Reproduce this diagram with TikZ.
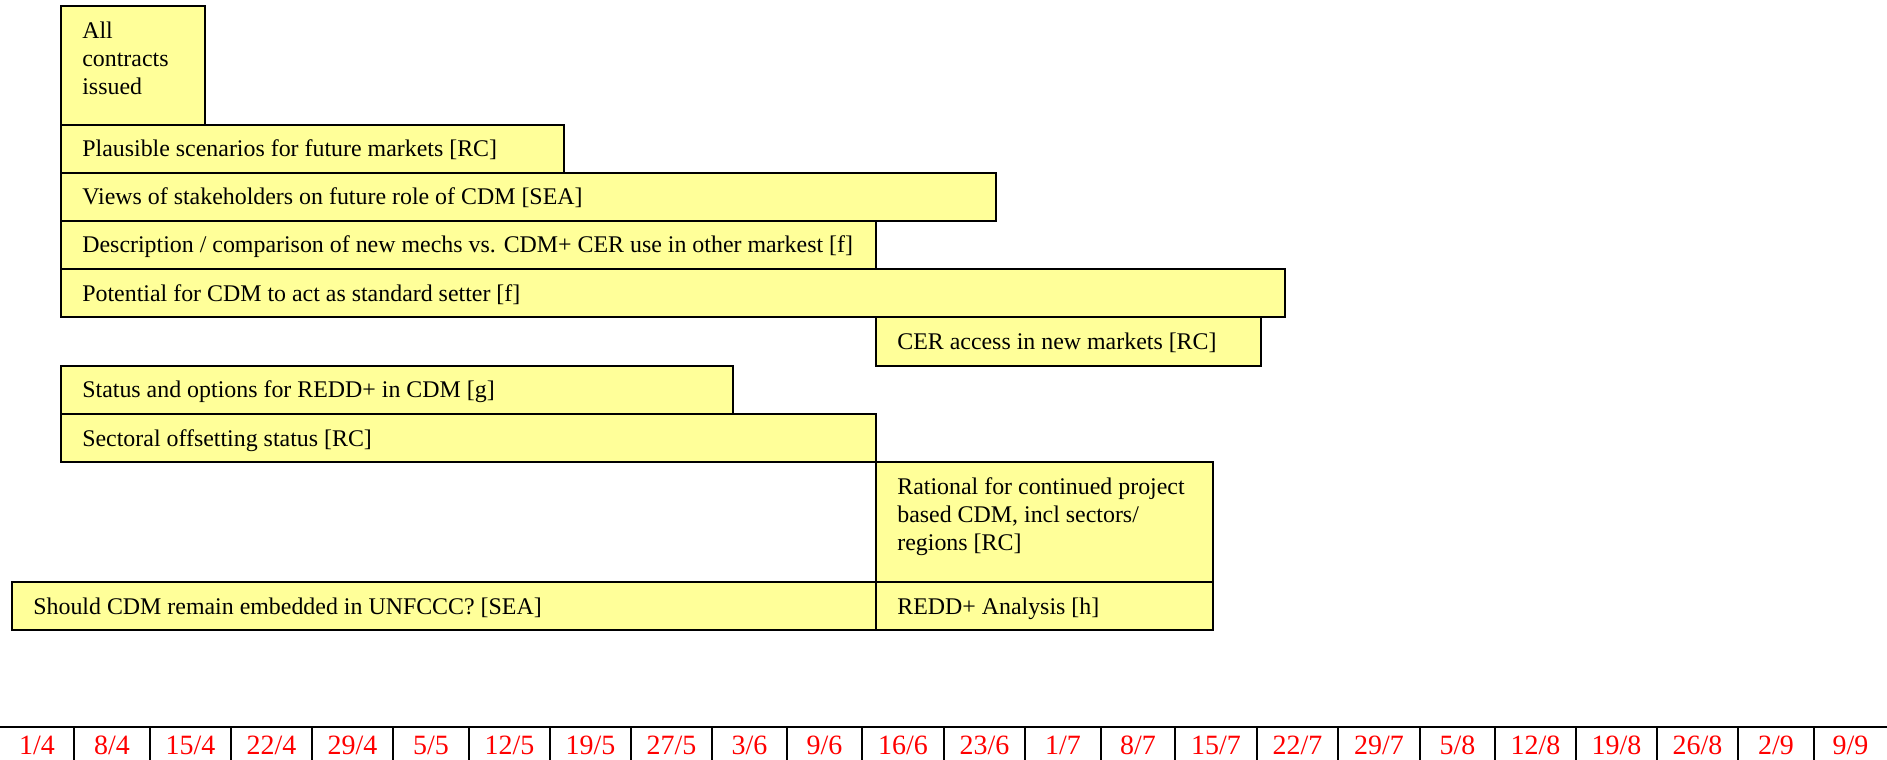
\documentclass[tikz,border=0pt]{standalone}
\usepackage{fontspec}
\setmainfont{Liberation Serif}
\usepackage{tikz}
\definecolor{pale}{RGB}{255, 255, 153}
\definecolor{datered}{RGB}{255, 0, 0}
\tikzset{
  task/.style={draw, fill=pale, line width=0.85pt},
  tasktext/.style={anchor=base west, inner sep=0pt, font=\fontsize{13.6}{15.9}\selectfont},
  tasklines/.style={anchor=north west, inner sep=0pt, align=left, font=\fontsize{13.6}{15.9}\selectfont},
  datetext/.style={anchor=base, inner sep=0pt, text=datered, font=\fontsize{15.9}{18}\selectfont}
}

\begin{document}
\begin{tikzpicture}[x=0.02cm, y=-0.02cm]
  \useasboundingbox (0, 0) rectangle (1887, 760);

  % work packages
  \draw [task] (61, 6) rectangle (205, 125);
  \node [tasklines] (contracts) at (82, 22) {All\\contracts\\issued};

  \draw [task] (61, 125) rectangle (564, 173);
  \node [tasktext] (scenarios) at (82, 157) {Plausible scenarios for future markets [RC]};

  \draw [task] (61, 173) rectangle (996, 221);
  \node [tasktext] (views) at (82, 205) {Views of stakeholders on future role of CDM [SEA]};

  \draw [task] (61, 221) rectangle (876, 269);
  \node [tasktext] (mechs) at (82, 253) {Description / comparison of new mechs vs. CDM+ CER use in other markest [f]};

  \draw [task] (61, 269) rectangle (1285, 317);
  \node [tasktext] (setter) at (82, 301) {Potential for CDM to act as standard setter [f]};

  \draw [task] (876, 317) rectangle (1261, 366);
  \node [tasktext] (access) at (897, 349) {CER access in new markets [RC]};

  \draw [task] (61, 366) rectangle (733, 414);
  \node [tasktext] (reddstatus) at (82, 398) {Status and options for REDD+ in CDM [g]};

  \draw [task] (61, 414) rectangle (876, 462);
  \node [tasktext] (sectoral) at (82, 446) {Sectoral offsetting status [RC]};

  \draw [task] (876, 462) rectangle (1213, 582);
  \node [tasklines] (rational) at (897, 477) {Rational for continued project\\based CDM, incl sectors/\\regions [RC]};

  \draw [task] (12, 582) rectangle (876, 630);
  \node [tasktext] (unfccc) at (33, 614) {Should CDM remain embedded in UNFCCC? [SEA]};

  \draw [task] (876, 582) rectangle (1213, 630);
  \node [tasktext] (reddanalysis) at (897, 614) {REDD+ Analysis [h]};

  % time line
  \draw [line width=1pt] (0, 727) -- (1887, 727);
  \foreach \b in {74, 150, 231, 312, 393, 469, 550, 631, 712, 787, 862, 944, 1025, 1101, 1175, 1257, 1338, 1420, 1495, 1576, 1657, 1738, 1814}
    \draw [line width=0.8pt] (\b, 727) -- (\b, 760);
  \foreach \a/\b/\d/\m [count=\i] in {0/74/1/4, 74/150/8/4, 150/231/15/4, 231/312/22/4, 312/393/29/4, 393/469/5/5, 469/550/12/5, 550/631/19/5, 631/712/27/5, 712/787/3/6, 787/862/9/6, 862/944/16/6, 944/1025/23/6, 1025/1101/1/7, 1101/1175/8/7, 1175/1257/15/7, 1257/1338/22/7, 1338/1420/29/7, 1420/1495/5/8, 1495/1576/12/8, 1576/1657/19/8, 1657/1738/26/8, 1738/1814/2/9, 1814/1887/9/9}
    \node [datetext] (week\i) at ({(\a+\b)/2}, 754) {\d/\m};
\end{tikzpicture}
\end{document}
